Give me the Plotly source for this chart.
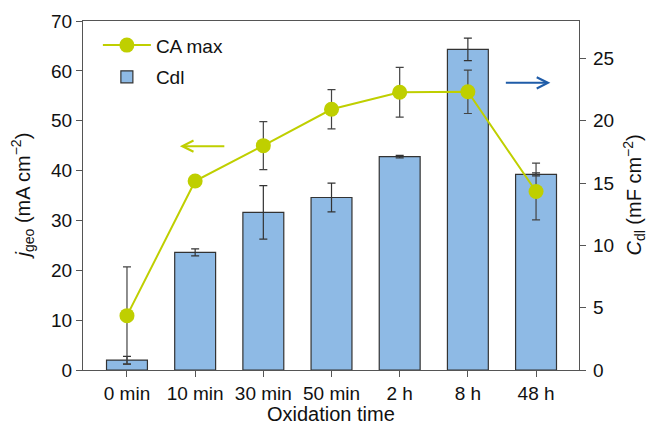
import plotly.graph_objects as go

categories = ["0 min", "10 min", "30 min", "50 min", "2 h", "8 h", "48 h"]
ca_max = [10.9, 37.9, 45.0, 52.3, 55.7, 55.8, 35.8]
ca_err = [9.8, 0.5, 4.8, 3.95, 5.0, 4.35, 5.7]
cdl = [0.8, 9.43, 12.65, 13.84, 17.12, 25.72, 15.7]
cdl_err = [0.3, 0.28, 2.15, 1.16, 0.1, 0.9, 0.12]

x_title = "Oxidation time"
left_title = "<i>j</i><sub>geo</sub> (mA cm<sup>−2</sup>)"
right_title = "<i>C</i><sub>dl</sub> (mF cm<sup>−2</sup>)"

LINE = "#BFCF00"
BAR = "#8EBAE5"
AX = "#555555"
FAM = "Liberation Sans, Arial, sans-serif"
TICKF = dict(family=FAM, size=19, color="#111111")
TITLEF = dict(family=FAM, size=20, color="#111111")

fig = go.Figure()
fig.add_trace(go.Scatter(
    x=categories, y=ca_max, name="CA max", yaxis="y2", mode="lines+markers",
    line=dict(color=LINE, width=2), marker=dict(color=LINE, size=15),
    error_y=dict(type="data", array=ca_err, color="#444444", thickness=1.2, width=4),
    legendgroup="a",
))
fig.add_trace(go.Bar(
    x=categories, y=cdl, name="Cdl", yaxis="y", width=0.6,
    marker=dict(color=BAR, line=dict(color="#333333", width=1.2)),
    error_y=dict(type="data", array=cdl_err, color="#333333", thickness=1.2, width=4),
    legendgroup="b",
))

fig.update_layout(
    width=649, height=427,
    margin=dict(l=83, r=70, t=21, b=57),
    paper_bgcolor="white", plot_bgcolor="white",
    font=TICKF,
    showlegend=True,
    legend=dict(x=0.03, y=0.985, xanchor="left", yanchor="top", bgcolor="rgba(0,0,0,0)",
                font=dict(family=FAM, size=19, color="#111111"), tracegroupgap=4,
                traceorder="grouped", itemwidth=48),
    xaxis=dict(type="category", range=[-0.645, 6.63], showline=True, linecolor=AX, linewidth=1.2,
               mirror=True, ticks="outside", ticklen=6, tickcolor=AX, showgrid=False,
               automargin=False, tickfont=TICKF),
    yaxis=dict(side="right", range=[0, 28], tickvals=[0, 5, 10, 15, 20, 25], showline=True,
               linecolor=AX, linewidth=1.2, ticks="outside", ticklen=6, tickcolor=AX,
               showgrid=False, zeroline=False, automargin=False, tickfont=TICKF,
               ticklabelstandoff=3),
    yaxis2=dict(side="left", overlaying="y", range=[0, 70], tickvals=list(range(0, 71, 10)),
                showline=True, linecolor=AX, linewidth=1.2, ticks="outside", ticklen=6,
                tickcolor=AX, showgrid=False, zeroline=False, automargin=False, tickfont=TICKF),
    annotations=[
        dict(x=0.776, y=44.9, ax=1.45, ay=44.9, xref="x", yref="y2", axref="x", ayref="y2",
             showarrow=True, arrowhead=5, arrowsize=1.1, arrowwidth=2, arrowcolor=LINE, text=""),
        dict(x=6.21, y=57.6, ax=5.535, ay=57.6, xref="x", yref="y2", axref="x", ayref="y2",
             showarrow=True, arrowhead=5, arrowsize=1.1, arrowwidth=2, arrowcolor="#1F5CA8", text=""),
        dict(text=x_title, x=0.5, y=-0.126, xref="paper", yref="paper", showarrow=False,
             xanchor="center", yanchor="middle", font=TITLEF, borderpad=0),
        dict(text=left_title, x=-0.121, y=0.5, xref="paper", yref="paper", showarrow=False,
             xanchor="center", yanchor="middle", textangle=-90, font=TITLEF, borderpad=0),
        dict(text=right_title, x=1.111, y=0.5, xref="paper", yref="paper", showarrow=False,
             xanchor="center", yanchor="middle", textangle=-90, font=TITLEF, borderpad=0),
    ],
)

fig.write_html("out.html")
